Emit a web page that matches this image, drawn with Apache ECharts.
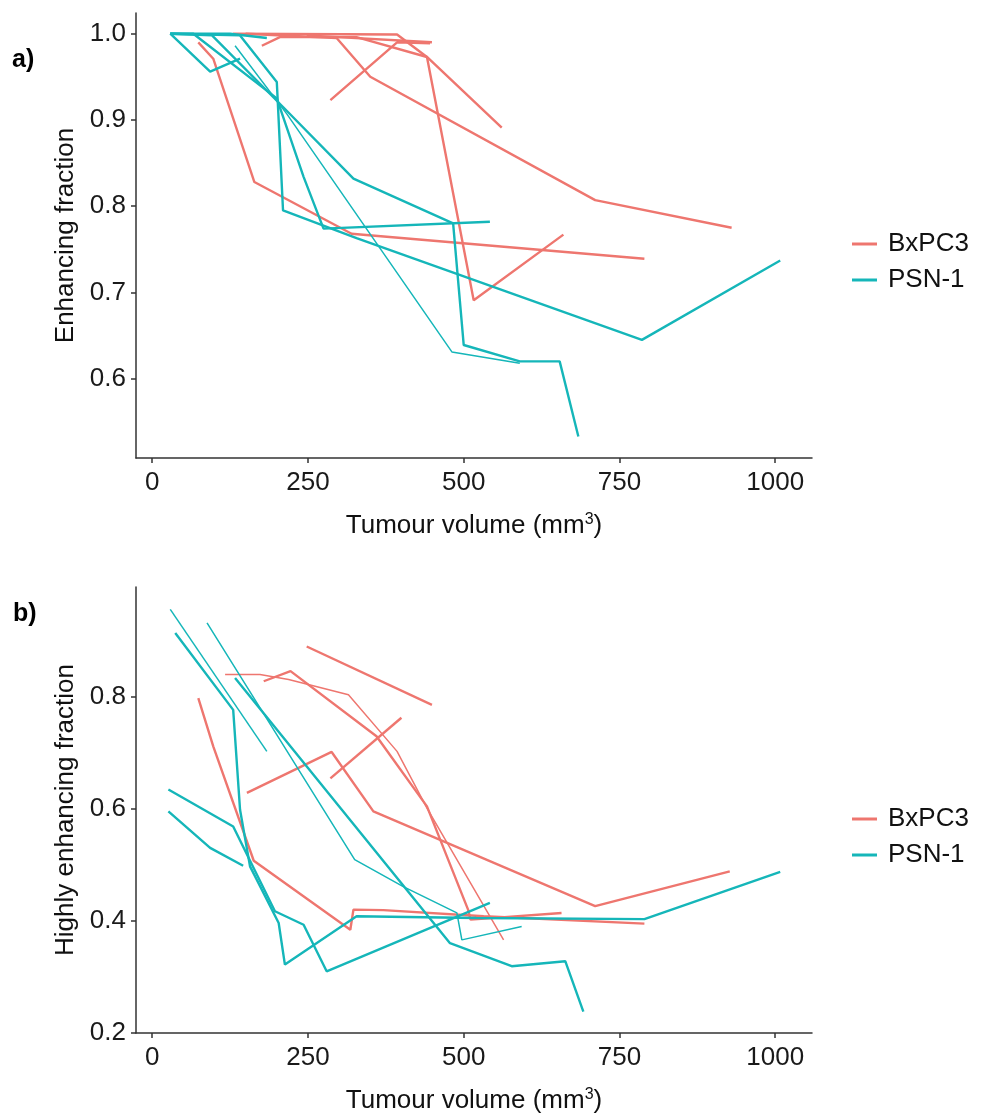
<!DOCTYPE html>
<html>
<head>
<meta charset="utf-8">
<script src="https://cdn.jsdelivr.net/npm/echarts@6/dist/echarts.min.js"></script>
<style>
  html, body { margin: 0; padding: 0; background: #fff; }
  #chart { width: 989px; height: 1115px; }
</style>
</head>
<body>
<div id="chart"></div>
<script>
// tick values
const xTicks = [0, 250, 500, 750, 1000]
const yTicksA = [0.6, 0.7, 0.8, 0.9, 1.0]
const yTicksB = [0.2, 0.4, 0.6, 0.8]

// panel a) enhancing fraction, [tumour volume, fraction]
const aBx1 = [[74, 0.990], [98, 0.971], [164, 0.828], [320, 0.768], [790, 0.739]]
const aBx2 = [[130, 1.0], [393, 0.999], [441, 0.973], [516, 0.691], [660, 0.767]]
const aBx3 = [[176, 0.986], [205, 0.996], [328, 0.996], [441, 0.973], [561, 0.891]]
const aBx4 = [[150, 1.0], [296, 0.995], [350, 0.950], [711, 0.807], [930, 0.775]]
const aBx5 = [[286, 0.923], [393, 0.990], [446, 0.989]]
const aBx6 = [[248, 0.998], [449, 0.990]]

const aPs1 = [[29, 1.0], [93, 0.956], [141, 0.971]]
const aPs2 = [[29, 1.0], [125, 1.0], [184, 0.995]]
const aPs3 = [[29, 1.0], [141, 0.998], [200, 0.944], [210, 0.795], [328, 0.763], [786, 0.645], [1008, 0.737]]
const aPs4 = [[29, 1.0], [66, 1.0], [200, 0.925], [243, 0.834], [275, 0.774], [542, 0.782]]
const aPs5 = [[29, 1.0], [96, 0.998], [210, 0.915], [323, 0.832], [483, 0.780], [500, 0.639], [590, 0.620], [654, 0.620], [684, 0.533]]
const aPs6 = [[133, 0.986], [216, 0.907], [481, 0.631], [590, 0.618]]

// panel b) highly enhancing fraction
const bBx1 = [[74, 0.797], [98, 0.711], [163, 0.507], [318, 0.384], [323, 0.420], [371, 0.419], [532, 0.408], [790, 0.395]]
const bBx2 = [[179, 0.827], [222, 0.845], [360, 0.729], [441, 0.604], [507, 0.420], [511, 0.402], [657, 0.414]]
const bBx3 = [[117, 0.839], [173, 0.839], [219, 0.830], [315, 0.803], [393, 0.702], [441, 0.601], [564, 0.366]]
const bBx4 = [[152, 0.628], [288, 0.701], [355, 0.595], [711, 0.426], [927, 0.488]]
const bBx5 = [[286, 0.654], [400, 0.762]]
const bBx6 = [[248, 0.889], [449, 0.785]]

const bPs1 = [[26, 0.595], [93, 0.530], [146, 0.498]]
const bPs2 = [[29, 0.955], [184, 0.702]]
const bPs3 = [[37, 0.913], [130, 0.776], [141, 0.598], [157, 0.497], [203, 0.396], [213, 0.322], [328, 0.408], [520, 0.405], [790, 0.403], [1008, 0.487]]
const bPs4 = [[26, 0.634], [130, 0.568], [197, 0.417], [243, 0.393], [280, 0.310], [542, 0.432]]
const bPs5 = [[133, 0.833], [478, 0.360], [577, 0.319], [663, 0.328], [692, 0.238]]
const bPs6 = [[88, 0.931], [325, 0.509], [403, 0.461], [489, 0.414], [497, 0.366], [593, 0.390]]

const bxColor = '#EE766F'
const psColor = '#15B6B9'
const font = 'Liberation Sans, Arial, sans-serif'

// thin lines in the picture
const thin = [aPs6, bPs2, bPs6, bBx3]

function makeLine(name, data, panel) {
  return {
    name: name,
    type: 'line',
    xAxisIndex: panel,
    yAxisIndex: panel,
    data: data,
    showSymbol: false,
    symbol: 'none',
    animation: false,
    silent: true,
    lineStyle: {
      width: thin.indexOf(data) >= 0 ? 1.5 : 2.4,
      color: name === 'BxPC3' ? bxColor : psColor
    },
    itemStyle: {
      color: name === 'BxPC3' ? bxColor : psColor
    }
  }
}

const series = []
;[aBx1, aBx2, aBx3, aBx4, aBx5, aBx6].forEach(d => series.push(makeLine('BxPC3', d, 0)))
;[aPs1, aPs2, aPs3, aPs4, aPs5, aPs6].forEach(d => series.push(makeLine('PSN-1', d, 0)))
;[bBx1, bBx2, bBx3, bBx4, bBx5, bBx6].forEach(d => series.push(makeLine('BxPC3', d, 1)))
;[bPs1, bPs2, bPs3, bPs4, bPs5, bPs6].forEach(d => series.push(makeLine('PSN-1', d, 1)))

function xAxis(gridIndex) {
  return {
    type: 'value',
    gridIndex: gridIndex,
    min: -26,
    max: 1059,
    name: 'Tumour volume (mm{sup|3})',
    nameLocation: 'middle',
    nameGap: 54,
    nameTextStyle: {
      fontFamily: font,
      fontSize: 26,
      color: '#111',
      rich: {
        sup: { fontSize: 16, verticalAlign: 'top', fontFamily: font, color: '#111', padding: [0, 0, 12, 0] }
      }
    },
    axisLine: { show: true, onZero: false, lineStyle: { color: '#333', width: 1.5 } },
    axisTick: { show: true, customValues: xTicks, length: 5, lineStyle: { color: '#333', width: 1.5 } },
    axisLabel: {
      customValues: xTicks,
      fontFamily: font,
      fontSize: 26,
      color: '#1a1a1a',
      margin: 12,
      formatter: v => String(v)
    },
    splitLine: { show: false }
  }
}

function yAxis(gridIndex, min, max, ticks, title) {
  return {
    type: 'value',
    gridIndex: gridIndex,
    min: min,
    max: max,
    name: title,
    nameLocation: 'middle',
    nameGap: 51,
    nameTextStyle: { fontFamily: font, fontSize: 26, color: '#111' },
    axisLine: { show: true, onZero: false, lineStyle: { color: '#333', width: 1.5 } },
    axisTick: { show: true, customValues: ticks, length: 5, lineStyle: { color: '#333', width: 1.5 } },
    axisLabel: {
      customValues: ticks,
      fontFamily: font,
      fontSize: 26,
      color: '#1a1a1a',
      margin: 10,
      formatter: v => v.toFixed(1)
    },
    splitLine: { show: false }
  }
}

function legend(top) {
  return {
    data: ['BxPC3', 'PSN-1'],
    orient: 'vertical',
    left: 847,
    top: top,
    icon: 'rect',
    itemWidth: 25,
    itemHeight: 3,
    itemGap: 10,
    selectedMode: false,
    textStyle: { fontFamily: font, fontSize: 26, color: '#111', lineHeight: 24, padding: [0, 0, 0, 6] }
  }
}

const chart = echarts.init(document.getElementById('chart'), null, { renderer: 'canvas' })
chart.setOption({
  backgroundColor: '#fff',
  animation: false,
  grid: [
    { left: 136, top: 13, width: 676, height: 445, containLabel: false, outerBoundsMode: 'none' },
    { left: 136, top: 587, width: 676, height: 446, containLabel: false, outerBoundsMode: 'none' }
  ],
  xAxis: [xAxis(0), xAxis(1)],
  yAxis: [
    yAxis(0, 0.508, 1.024, yTicksA, 'Enhancing fraction'),
    yAxis(1, 0.2, 0.995, yTicksB, 'Highly enhancing fraction')
  ],
  legend: [legend(226), legend(801)],
  graphic: [
    { type: 'text', left: 12, top: 48, style: { text: 'a)', fontFamily: font, fontSize: 25, fontWeight: 'bold', fill: '#000' } },
    { type: 'text', left: 13, top: 602, style: { text: 'b)', fontFamily: font, fontSize: 25, fontWeight: 'bold', fill: '#000' } }
  ],
  series: series
})
</script>
</body>
</html>
